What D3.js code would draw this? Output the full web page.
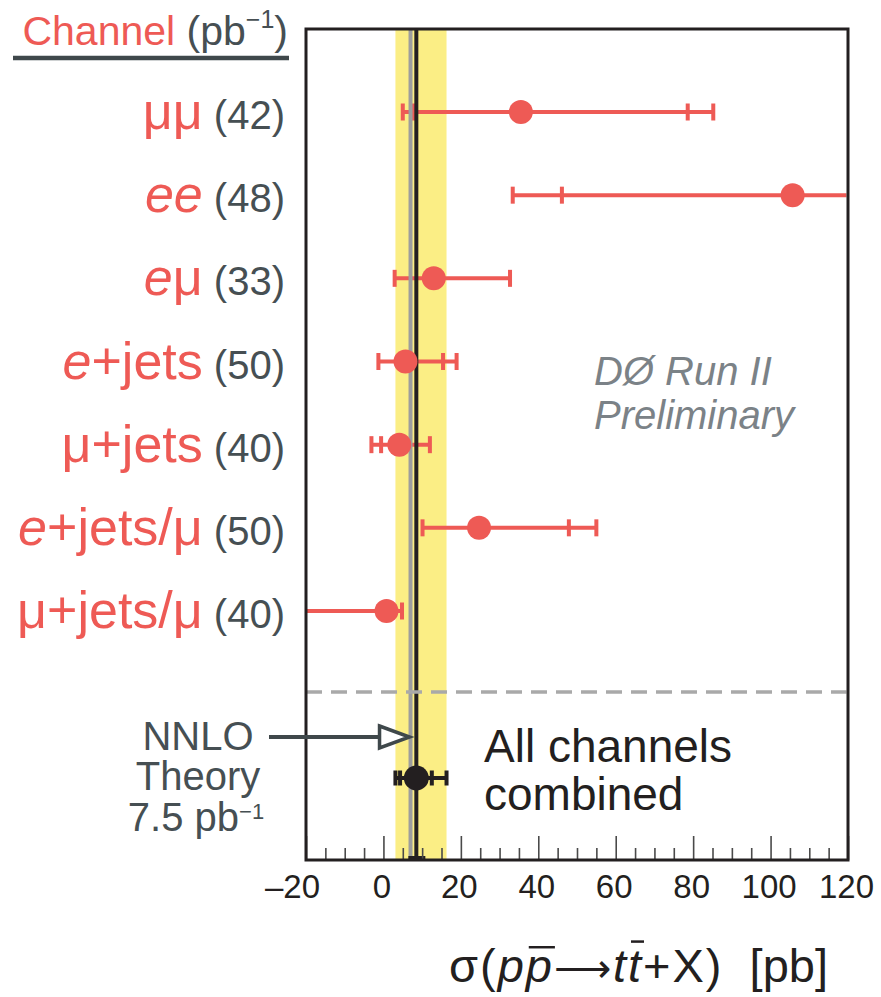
<!DOCTYPE html>
<html>
<head>
<meta charset="utf-8">
<script src="https://cdn.jsdelivr.net/npm/d3@7"></script>
<style>
  html, body { margin: 0; padding: 0; background: #ffffff; }
  svg { display: block; }
  text { font-family: "Liberation Sans", Arial, Helvetica, sans-serif; }
</style>
</head>
<body>
<svg id="chart" width="881" height="997"></svg>
<script>
// ---------------- data ----------------
const channels = ["μμ", "ee", "eμ", "e+jets", "μ+jets", "e+jets/μ", "μ+jets/μ"];
const lumi = [42, 48, 33, 50, 40, 50, 40];
const xsec = [35.5, 105.7, 13.0, 5.7, 4.1, 24.7, 0.8];
const statLow  = [7.7, 46.1, 2.9, -1.3, -0.6, 10.1, -30];
const statHigh = [78.6, 170, 32.7, 15.4, 12.0, 47.9, 4.8];
const totLow   = [5.0, 33.4, 2.9, -1.3, -3.1, 10.1, -30];
const totHigh  = [85.2, 170, 32.7, 18.9, 12.0, 55.0, 4.8];

const combinedValue = 8.5;
const combinedStat = [4.3, 12.5];
const combinedTotal = [3.1, 16.3];
const theoryValue = 7.0;

const majorTicks = [-20, 0, 20, 40, 60, 80, 100, 120];
const minorTicks = d3.range(-20, 121, 5).filter(v => v % 20 !== 0);

// ---------------- layout ----------------
const svg = d3.select("#chart");
const plot = { left: 306, right: 848, top: 29, bottom: 860 };
const RED = "#ee5a55", DARK = "#3f484b", GRAYTXT = "#464f53", BLACK = "#231f20";

const x = d3.scaleLinear().domain([-20, 120]).range([plot.left, plot.right]);
const y = d3.scalePoint().domain(channels).range([112, 611]);
const yCombined = 778;

svg.append("defs").append("clipPath").attr("id", "plotclip")
  .append("rect").attr("x", plot.left).attr("y", plot.top)
  .attr("width", plot.right - plot.left - 1.5).attr("height", plot.bottom - plot.top);

const g = svg.append("g").attr("clip-path", "url(#plotclip)");

// yellow band = combined total uncertainty
g.append("rect")
  .attr("x", x(combinedTotal[0])).attr("y", plot.top)
  .attr("width", x(combinedTotal[1]) - x(combinedTotal[0]))
  .attr("height", plot.bottom - plot.top)
  .attr("fill", "#fbee85");

// red error bars
const rows = channels.map((c, i) => ({ c, i }));
const bars = g.append("g").selectAll("g").data(rows).join("g");
bars.append("line")
  .attr("x1", d => x(totLow[d.i])).attr("x2", d => x(totHigh[d.i]))
  .attr("y1", d => y(d.c)).attr("y2", d => y(d.c))
  .attr("stroke", RED).attr("stroke-width", 4);
function caps(sel, arrFn, color, h, w) {
  sel.each(function (d) {
    const vals = Array.from(new Set(arrFn(d)));
    d3.select(this).selectAll("rect.cap").data(vals).join("rect")
      .attr("class", "cap")
      .attr("x", v => x(v) - w / 2).attr("width", w)
      .attr("y", (d.cy !== undefined ? d.cy : y(d.c)) - h / 2).attr("height", h)
      .attr("fill", color);
  });
}
caps(bars, d => [statLow[d.i], statHigh[d.i], totLow[d.i], totHigh[d.i]], RED, 17, 4);

// theory (gray) and combined (black) vertical lines
g.append("line")
  .attr("x1", x(theoryValue)).attr("x2", x(theoryValue))
  .attr("y1", plot.top).attr("y2", plot.bottom)
  .attr("stroke", "#9d9d9d").attr("stroke-width", 4);
g.append("line")
  .attr("x1", x(combinedValue)).attr("x2", x(combinedValue))
  .attr("y1", plot.top).attr("y2", plot.bottom)
  .attr("stroke", BLACK).attr("stroke-width", 4);

// red points
g.append("g").selectAll("circle").data(rows).join("circle")
  .attr("cx", d => x(xsec[d.i])).attr("cy", d => y(d.c)).attr("r", 12)
  .attr("fill", RED);

// dashed separator
g.append("line")
  .attr("x1", plot.left).attr("x2", plot.right)
  .attr("y1", 692).attr("y2", 692)
  .attr("stroke", "#a9a9a9").attr("stroke-width", 3.5)
  .attr("stroke-dasharray", "16 9");

// combined point
const comb = g.append("g").datum({ cy: yCombined });
comb.append("line")
  .attr("x1", x(combinedTotal[0])).attr("x2", x(combinedTotal[1]))
  .attr("y1", yCombined).attr("y2", yCombined)
  .attr("stroke", BLACK).attr("stroke-width", 4);
caps(comb, () => [combinedStat[0], combinedStat[1], combinedTotal[0], combinedTotal[1]], BLACK, 15, 4);
comb.append("circle").attr("cx", x(combinedValue)).attr("cy", yCombined).attr("r", 12.5).attr("fill", BLACK);

g.append("rect")
  .attr("x", x(combinedValue) - 8).attr("y", plot.bottom - 4)
  .attr("width", 17).attr("height", 5).attr("fill", BLACK);

// ---------------- axis ----------------
const fmt = v => (v < 0 ? "\u2013" + Math.abs(v) : String(v));
const axMinor = svg.append("g").attr("transform", `translate(0,${plot.bottom})`)
  .call(d3.axisBottom(x).tickValues(minorTicks).tickSize(-12).tickFormat(""));
const axMajor = svg.append("g").attr("transform", `translate(0,${plot.bottom})`)
  .call(d3.axisBottom(x).tickValues(majorTicks).tickSize(-24).tickPadding(15).tickFormat(fmt));
[axMinor, axMajor].forEach(a => {
  a.select(".domain").remove();
  a.selectAll(".tick line").attr("stroke", "#4a4a4a").attr("stroke-width", 1.6);
});
axMajor.selectAll(".tick text")
  .attr("font-family", "Liberation Sans, Arial, sans-serif")
  .attr("font-size", 33).attr("fill", BLACK)
  .attr("dx", d => (d < 0 ? -14 : -2));

// frame
svg.append("rect")
  .attr("x", plot.left).attr("y", plot.top)
  .attr("width", plot.right - plot.left).attr("height", plot.bottom - plot.top)
  .attr("fill", "none").attr("stroke", BLACK).attr("stroke-width", 3);

// ---------------- labels ----------------
const hdr = svg.append("text").attr("x", 288).attr("y", 45).attr("text-anchor", "end");
hdr.append("tspan").attr("fill", RED).attr("font-size", 41).text("Channel");
hdr.append("tspan").attr("fill", GRAYTXT).attr("font-size", 41).text(" (pb");
hdr.append("tspan").attr("fill", GRAYTXT).attr("font-size", 25).attr("dy", -17).text("\u22121");
hdr.append("tspan").attr("fill", GRAYTXT).attr("font-size", 41).attr("dy", 17).text(")");
svg.append("line").attr("x1", 13).attr("x2", 289).attr("y1", 58).attr("y2", 58)
  .attr("stroke", DARK).attr("stroke-width", 4.5);

function nameSegments(name) {
  const segs = [];
  name.split(/(jets)/).forEach(part => {
    if (part === "jets") { segs.push({ t: part, it: false }); return; }
    part.split(/(e)/).filter(s => s !== "").forEach(s => segs.push({ t: s, it: s === "e" }));
  });
  return segs;
}

rows.forEach(d => {
  const t = svg.append("text").attr("x", 285).attr("y", y(d.c) + 17).attr("text-anchor", "end");
  nameSegments(d.c).forEach(s => {
    t.append("tspan").attr("fill", RED).attr("font-size", 52)
      .attr("font-style", s.it ? "italic" : "normal").text(s.t);
  });
  t.append("tspan").attr("fill", GRAYTXT).attr("font-size", 40).text(" (" + lumi[d.i] + ")");
});

// DØ Run II Preliminary
svg.append("text").attr("x", 594).attr("y", 385).attr("font-size", 40)
  .attr("font-style", "italic").attr("fill", "#7b8287").text("DØ Run II");
svg.append("text").attr("x", 594).attr("y", 429).attr("font-size", 40)
  .attr("font-style", "italic").attr("fill", "#7b8287").text("Preliminary");

// NNLO theory label + arrow
const nn = svg.append("g").attr("fill", GRAYTXT).attr("font-size", 40).attr("text-anchor", "middle");
nn.append("text").attr("x", 198).attr("y", 750).text("NNLO");
nn.append("text").attr("x", 198).attr("y", 790).text("Theory");
const pbt = nn.append("text").attr("x", 196).attr("y", 831);
pbt.append("tspan").text("7.5 pb");
pbt.append("tspan").attr("font-size", 22).attr("dy", -12).text("\u22121");

const tipX = x(theoryValue) - 1;
svg.append("line").attr("x1", 269).attr("x2", tipX - 28).attr("y1", 737).attr("y2", 737)
  .attr("stroke", DARK).attr("stroke-width", 4);
svg.append("path")
  .attr("d", `M${tipX - 30},${726} L${tipX},${737} L${tipX - 30},${748} Z`)
  .attr("fill", "#ffffff").attr("stroke", DARK).attr("stroke-width", 3.5);

// All channels combined
svg.append("text").attr("x", 484).attr("y", 762).attr("font-size", 46).attr("fill", BLACK).text("All channels");
svg.append("text").attr("x", 484).attr("y", 810).attr("font-size", 46).attr("fill", BLACK).text("combined");

// axis title
const TY = 982, TFS = 47;
const title = svg.append("text").attr("x", 828).attr("y", TY).attr("text-anchor", "end")
  .attr("font-size", TFS).attr("fill", BLACK).style("white-space", "pre");
const parts = [
  { t: "σ(", it: false, ls: 2 }, { t: "p", it: true, ls: 2 }, { t: "p", it: true, bar: true, ls: 2 },
  { t: "⟶", it: false, ls: 2, fs: 40 }, { t: "t", it: true, ls: 2 }, { t: "t", it: true, bar: true, ls: 2 },
  { t: "+X)", it: false, ls: 2 }, { t: "  [pb]", it: false, ls: 0 }
];
parts.forEach(p => {
  const ts = title.append("tspan").attr("font-style", p.it ? "italic" : "normal")
    .attr("letter-spacing", p.ls).text(p.t);
  if (p.fs) ts.attr("font-size", p.fs);
});
const tnode = title.node();
let idx = 0;
parts.forEach(p => {
  if (p.bar) {
    const ext = tnode.getExtentOfChar(idx);
    const yb = p.t === "p" ? TY - 0.74 * TFS : TY - 0.86 * TFS;
    svg.append("line")
      .attr("x1", ext.x + 3).attr("x2", ext.x + ext.width + 1)
      .attr("y1", yb).attr("y2", yb)
      .attr("stroke", BLACK).attr("stroke-width", 2.5);
  }
  idx += p.t.length;
});
</script>
</body>
</html>
